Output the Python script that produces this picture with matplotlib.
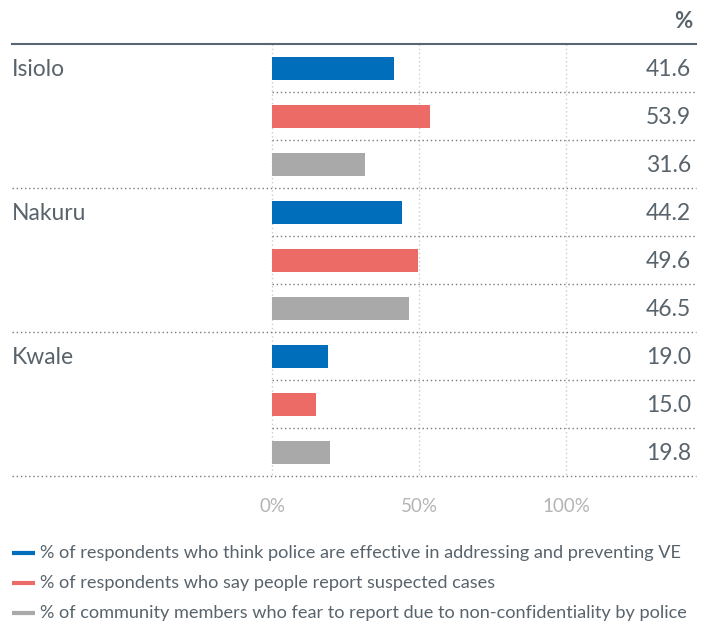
import matplotlib
matplotlib.use("Agg")
import matplotlib.pyplot as plt

# Survey figures per county (percent)
counties = ["Isiolo", "Nakuru", "Kwale"]
effective = [41.6, 44.2, 19.0]
report = [53.9, 49.6, 15.0]
fear = [31.6, 46.5, 19.8]
series_labels = [
    "% of respondents who think police are effective in addressing and preventing VE",
    "% of respondents who say people report suspected cases",
    "% of community members who fear to report due to non-confidentiality by police",
]
ticks = [0, 50, 100]
tick_labels = ["0%", "50%", "100%"]

BLUE = "#006eba"
RED = "#ec6b66"
GRAY = "#a9a9a9"
TEXT = "#58636c"
LIGHT = "#b4b4b4"
colors = [BLUE, RED, GRAY]
series = [effective, report, fear]

plt.rcParams["font.family"] = ["Lato", "DejaVu Sans"]

W, H = 706, 623
fig = plt.figure(figsize=(W / 100, H / 100), dpi=100)
ax = fig.add_axes([0, 0, 1, 1])
# x in percent, 0% at px 272 and 100% at px 566; y in pixel rows from the top
px_per_pct = 2.94
x0 = 272
ax.set_xlim(-x0 / px_per_pct, (W - x0) / px_per_pct)
ax.set_ylim(H, 0)
ax.axis("off")

def px(x):
    return (x - x0) / px_per_pct

row_h = 48
top = 68
bar_h = 23
left, right = px(12), px(696)

for g, county in enumerate(counties):
    base = top + g * 3 * row_h
    ax.text(left, base + 1, county, fontsize=16.5, color=TEXT, va="center", ha="left")
    for s in range(3):
        y = base + s * row_h
        v = series[s][g]
        ax.barh(y, v, height=bar_h, color=colors[s], left=0, zorder=3)
        ax.text(px(691), y + 1, f"{v:.1f}", fontsize=16.5, color=TEXT, va="center", ha="right")
        if s < 2:
            ax.plot([0, right], [y + row_h / 2] * 2, color="#777777", lw=1,
                    ls=(0, (1, 2)), zorder=2)
    yb = base + 3 * row_h - row_h / 2
    ax.plot([left, right], [yb, yb], color="#777777", lw=1, ls=(0, (1, 2)), zorder=2)

# header rule and unit
ax.plot([left, right], [top - row_h / 2] * 2, color="#5a6570", lw=1.5, zorder=4)
ax.text(px(692), 22, "%", fontsize=16, fontweight="bold", color=TEXT, ha="right", va="center")

# vertical grid and tick labels
y_last = top + 9 * row_h - row_h / 2
for t, lab in zip(ticks, tick_labels):
    ax.plot([t, t], [top - row_h / 2, y_last], color="#cccccc", lw=1, ls=(0, (1, 2)), zorder=1)
    ax.text(t, 506, lab, fontsize=13.5, color=LIGHT, ha="center", va="center")

# legend
for i, (lab, c) in enumerate(zip(series_labels, colors)):
    y = 553 + i * 30
    ax.plot([px(12), px(35)], [y, y], color=c, lw=3, solid_capstyle="butt")
    ax.text(px(40), y, lab, fontsize=13.1, color=TEXT, ha="left", va="center")

fig.savefig("out.png", dpi=100)
